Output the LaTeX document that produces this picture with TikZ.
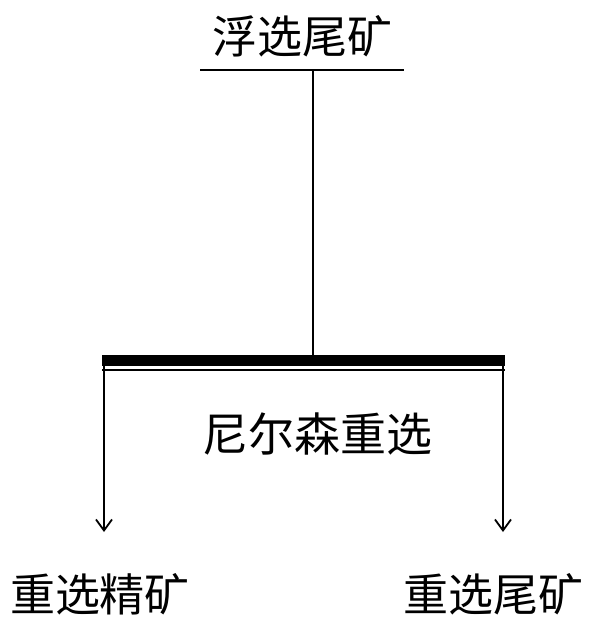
\documentclass[tikz,border=0pt]{standalone}
\usepackage{fontspec}
\setmainfont{Noto Sans CJK SC}
\usetikzlibrary{arrows.meta}
\begin{document}
\begin{tikzpicture}[x=1pt,y=-1pt,
  lbl/.style={font=\fontsize{45}{50}\selectfont, inner sep=0pt, anchor=center},
  ln/.style={line width=1.8pt, black},
  arr/.style={ln, -{Straight Barb[length=11pt,width=16pt,line width=1.8pt]}}]
\useasboundingbox (0,0) rectangle (600,630);
\node[lbl] (top) at (302,36) {浮选尾矿};
\coordinate (ulL) at (200,70);
\coordinate (ulR) at (404,70);
\draw[ln] (ulL) -- (ulR);
\coordinate (ulM) at (313,70);
\node[fill=black, minimum width=403pt, minimum height=11pt, inner sep=0pt] (bar) at (303.5,360.5) {};
\coordinate (thinL) at (102,370);
\coordinate (thinR) at (505,370);
\draw[ln] (ulM) -- (bar.north -| ulM);
\draw[ln] (thinL) -- (thinR);
\node[lbl, font=\fontsize{46}{50}\selectfont] (mid) at (317,434) {尼尔森重选};
\node[lbl] (bl) at (100,594) {重选精矿};
\node[lbl] (br) at (493,594) {重选尾矿};
\coordinate (aL) at (104,532);
\coordinate (aR) at (503,532);
\draw[arr] (bar.south west -| aL) -- (aL);
\draw[arr] (bar.south east -| aR) -- (aR);
\end{tikzpicture}
\end{document}
